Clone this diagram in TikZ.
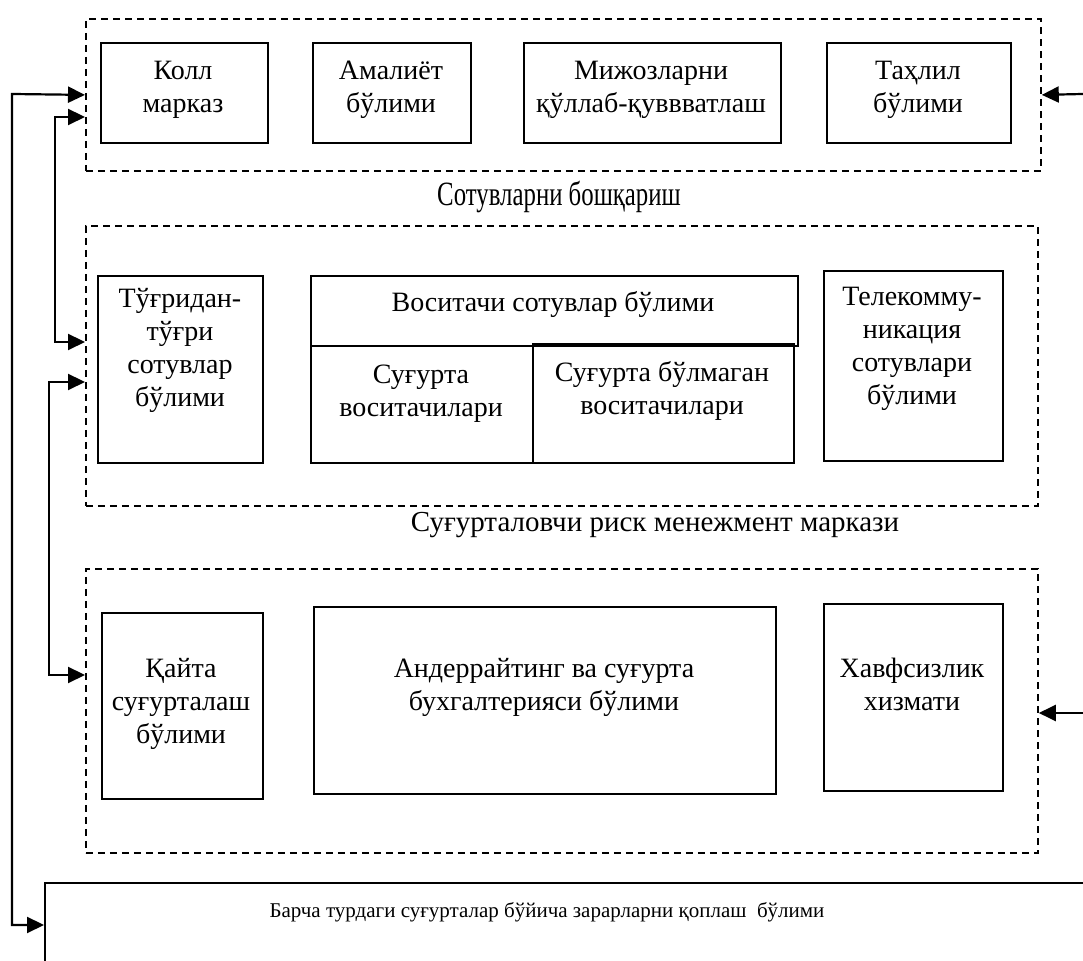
\documentclass[tikz,border=0pt]{standalone}
\usepackage{fontspec}
\usepackage{graphicx}
\setmainfont{Liberation Serif}
\usetikzlibrary{arrows.meta}

\begin{document}
\begin{tikzpicture}[x=0.5pt, y=-0.5pt,
    grp/.style={draw, dash pattern=on 3.5pt off 2.5pt, line width=0.9pt, anchor=north west, inner sep=0},
    unit/.style={draw, line width=1pt, anchor=north west, inner sep=0},
    txt/.style={font=\fontsize{14}{16.5}\selectfont, align=center, inner sep=0},
    link/.style={line width=1.1pt, {Triangle[length=8.5pt,width=8pt]}-{Triangle[length=8.5pt,width=8pt]}},
    feed/.style={line width=1.1pt, -{Triangle[length=8.5pt,width=8pt]}}]
    \path[use as bounding box, clip] (0,0) rectangle (1083,961);

    \node[grp, minimum width=477.5pt, minimum height=76pt] (grpA) at (85,18) {};
    \node[grp, minimum width=476pt, minimum height=140pt] (grpB) at (85,225) {};
    \node[grp, minimum width=476pt, minimum height=142pt] (grpC) at (85,568) {};

    \node[unit, minimum width=83.5pt, minimum height=50pt] (kol) at (100,42) {};
    \node[unit, minimum width=79pt, minimum height=50pt] (ama) at (312,42) {};
    \node[unit, minimum width=128.5pt, minimum height=50pt] (mij) at (523,42) {};
    \node[unit, minimum width=92pt, minimum height=50pt] (tah) at (826,42) {};
    \node[txt] (kolT) at (183,90) {Колл\\марказ};
    \node[txt] (amaT) at (391,90) {Амалиёт\\бўлими};
    \node[txt] (mijT) at (651,90) {Мижозларни\\қўллаб-қуввватлаш};
    \node[txt] (tahT) at (918,90) {Таҳлил\\бўлими};

    \node[txt] (ttlB) at (559,197) {\fontsize{17}{20}\selectfont\scalebox{0.73}[1]{Сотувларни бошқариш}};

    \node[unit, minimum width=82.5pt, minimum height=93.5pt] (tug) at (97,275) {};
    \node[unit, minimum width=243.5pt, minimum height=35pt] (vos) at (310,275) {};
    \node[unit, minimum width=111pt, minimum height=58.5pt] (sug) at (310,345) {};
    \node[unit, minimum width=130.5pt, minimum height=59.5pt] (nob) at (532,343) {};
    \node[unit, minimum width=89.5pt, minimum height=95pt] (tel) at (823,270) {};
    \node[txt] (tugT) at (180,350) {Тўғридан-\\тўғри\\сотувлар\\бўлими};
    \node[txt] (vosT) at (553,305) {Воситачи сотувлар бўлими};
    \node[txt] (sugT) at (421,394) {Суғурта\\воситачилари};
    \node[txt] (nobT) at (662,391) {Суғурта бўлмаган\\воситачилари};
    \node[txt] (telT) at (912,349) {Телекомму-\\никация\\сотувлари\\бўлими};

    \node[txt, font=\fontsize{14.5}{17}\selectfont] (ttlC) at (655,525) {Суғурталовчи риск менежмент маркази};

    \node[unit, minimum width=80.5pt, minimum height=93pt] (qay) at (101,612) {};
    \node[unit, minimum width=231pt, minimum height=93.5pt] (and) at (313,606) {};
    \node[unit, minimum width=89.5pt, minimum height=93.5pt] (xav) at (823,603) {};
    \node[txt] (qayT) at (181,704) {Қайта\\суғурталаш\\бўлими};
    \node[txt] (andT) at (544,687) {Андеррайтинг ва суғурта\\бухгалтерияси бўлими};
    \node[txt] (xavT) at (912,684) {Хавфсизлик\\хизмати};

    \node[unit, minimum width=530pt, minimum height=60pt] (bot) at (44,882) {};
    \node[txt, font=\fontsize{10.5}{13}\selectfont] (botT) at (547,912) {Барча турдаги суғурталар бўйича зарарларни қоплаш\ \ бўлими};

    \coordinate (inA) at (1083,94);
    \coordinate (inC) at (1083,713);
    \draw[feed] (inA) -- (grpA.east);
    \draw[feed] (inC) -- (inC -| grpC.east);

    \coordinate (o1) at (12,94);
    \coordinate (o2) at (12,925);
    \draw[link] (grpA.west) -- (o1) -- (o2) -- (o2 -| bot.west);
    \coordinate (m1) at (55,117);
    \coordinate (m2) at (55,342);
    \draw[link] (m1 -| grpA.west) -- (m1) -- (m2) -- (m2 -| grpB.west);
    \coordinate (n1) at (49,382);
    \coordinate (n2) at (49,675);
    \draw[link] (n1 -| grpB.west) -- (n1) -- (n2) -- (n2 -| grpC.west);
\end{tikzpicture}
\end{document}
